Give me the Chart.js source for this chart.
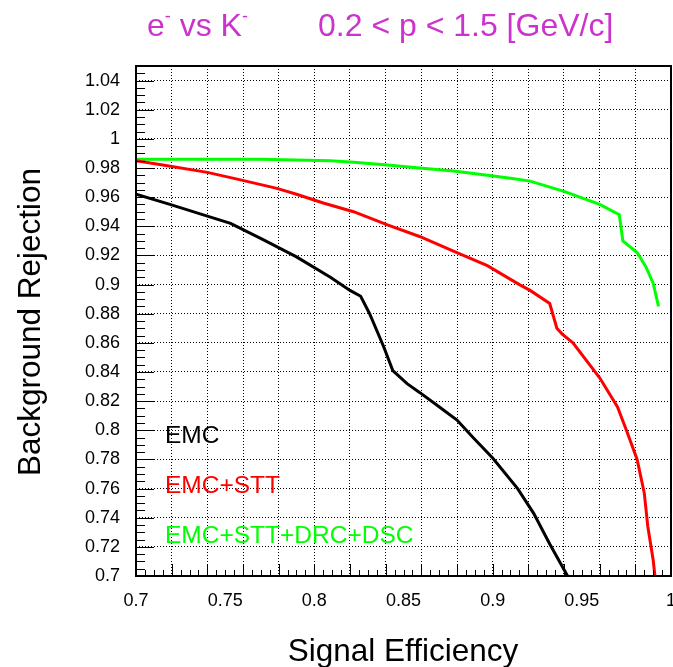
<!DOCTYPE html>
<html>
<head>
<meta charset="utf-8">
<title>e- vs K- rejection</title>
<script src="https://cdn.jsdelivr.net/npm/chart.js@4/dist/chart.umd.min.js"></script>
<style>
  html, body { margin: 0; padding: 0; background: #fff; }
  canvas { display: block; }
</style>
</head>
<body>
<canvas id="c" width="673" height="667"></canvas>
<script>
// Signal efficiency vs background rejection.
const emcX = [0.700, 0.719, 0.740, 0.753, 0.771, 0.790, 0.809, 0.820, 0.826, 0.831, 0.839, 0.844, 0.852, 0.859, 0.869, 0.880, 0.889, 0.900, 0.914, 0.923, 0.932, 0.942];
const emcY = [0.962, 0.955, 0.947, 0.942, 0.931, 0.919, 0.905, 0.896, 0.892, 0.880, 0.857, 0.841, 0.832, 0.826, 0.817, 0.807, 0.795, 0.781, 0.760, 0.743, 0.722, 0.700];
const sttX = [0.700, 0.715, 0.740, 0.758, 0.779, 0.790, 0.805, 0.822, 0.841, 0.859, 0.878, 0.897, 0.915, 0.921, 0.932, 0.936, 0.939, 0.945, 0.960, 0.970, 0.975, 0.981, 0.985, 0.987, 0.990, 0.991];
const sttY = [0.985, 0.982, 0.977, 0.972, 0.966, 0.962, 0.956, 0.950, 0.941, 0.933, 0.923, 0.913, 0.900, 0.896, 0.887, 0.870, 0.866, 0.860, 0.836, 0.816, 0.800, 0.780, 0.757, 0.734, 0.711, 0.700];
const allX = [0.700, 0.770, 0.809, 0.822, 0.841, 0.859, 0.878, 0.897, 0.910, 0.921, 0.940, 0.960, 0.971, 0.973, 0.981, 0.986, 0.990, 0.993];
const allY = [0.986, 0.986, 0.985, 0.984, 0.982, 0.980, 0.978, 0.975, 0.973, 0.971, 0.964, 0.955, 0.948, 0.930, 0.922, 0.912, 0.901, 0.885];

const seriesNames = ['EMC', 'EMC+STT', 'EMC+STT+DRC+DSC'];
const seriesColors = ['#000000', '#ff0000', '#00ff00'];
const xRange = [0.7, 1.0];
const yRange = [0.7, 1.05];

const pts = (xs, ys) => xs.map((x, i) => ({ x, y: ys[i] }));
const mult = (v, step) => Math.abs(Math.round(v * 1000) % Math.round(step * 1000)) === 0;
const fmt = (v) => String(Number(v.toFixed(3)));
const FONT = '"Liberation Sans", Arial, Helvetica, sans-serif';

// ROOT-style frame, inward ticks, legend text, titles
const rootStyle = {
  id: 'rootStyle',
  afterDatasetsDraw(chart) {
    const { ctx, chartArea: a, scales: { x, y } } = chart;
    ctx.save();
    ctx.strokeStyle = '#000';
    ctx.lineWidth = 1;
    ctx.beginPath();
    for (let i = 0; i <= 60; i++) {
      const px = Math.round(x.getPixelForValue(xRange[0] + i * 0.005)) + 0.5;
      const len = i % 4 === 0 ? 12 : 6;
      ctx.moveTo(px, a.bottom); ctx.lineTo(px, a.bottom - len);
    }
    for (let i = 0; i <= 70; i++) {
      const py = Math.round(y.getPixelForValue(yRange[0] + i * 0.005)) + 0.5;
      const len = i % 4 === 0 ? 18 : 9;
      ctx.moveTo(a.left, py); ctx.lineTo(a.left + len, py);
    }
    ctx.stroke();
    ctx.lineWidth = 2;
    ctx.strokeRect(a.left, a.top, a.right - a.left, a.bottom - a.top);

    // legend labels inside the frame
    ctx.font = '24.5px ' + FONT;
    ctx.textAlign = 'left';
    ctx.textBaseline = 'alphabetic';
    const ly = [443, 493, 543];
    seriesNames.forEach((n, i) => { ctx.fillStyle = seriesColors[i]; ctx.fillText(n, 165, ly[i]); });

    // axis titles
    ctx.fillStyle = '#000';
    ctx.font = '31.5px ' + FONT;
    ctx.textAlign = 'center';
    ctx.fillText('Signal Efficiency', 403, 661);
    ctx.save();
    ctx.translate(40, 322);
    ctx.rotate(-Math.PI / 2);
    ctx.fillText('Background Rejection', 0, 0);
    ctx.restore();

    // plot title with superscript minus signs
    ctx.fillStyle = '#cc33cc';
    ctx.textAlign = 'left';
    let tx = 147;
    const base = 36;
    const part = (s, size, dy) => { ctx.font = size + 'px ' + FONT; ctx.fillText(s, tx, base + dy); tx += ctx.measureText(s).width; };
    part('e', 32, 0); part('-', 18, -14); part(' vs K', 32, 0); part('-', 18, -14);
    tx = 318;
    part('0.2 < p < 1.5 [GeV/c]', 32, 0);
    ctx.restore();
  }
};

new Chart(document.getElementById('c'), {
  type: 'line',
  data: {
    datasets: [
      { label: seriesNames[0], data: pts(emcX, emcY), borderColor: seriesColors[0] },
      { label: seriesNames[1], data: pts(sttX, sttY), borderColor: seriesColors[1] },
      { label: seriesNames[2], data: pts(allX, allY), borderColor: seriesColors[2] },
    ],
  },
  options: {
    responsive: false,
    animation: false,
    devicePixelRatio: 1,
    elements: { point: { radius: 0 }, line: { borderWidth: 3, tension: 0 } },
    layout: { padding: { top: 66, right: 2, left: 0, bottom: 0 } },
    plugins: { legend: { display: false }, tooltip: { enabled: false } },
    scales: {
      x: {
        type: 'linear', min: xRange[0], max: xRange[1],
        afterFit(s) { s.height = 91; s.paddingLeft = 0; s.paddingRight = 0; },
        ticks: {
          stepSize: 0.01, autoSkip: false, maxRotation: 0, padding: 14, color: '#000',
          font: { size: 18, family: FONT },
          callback: (v) => (mult(v, 0.05) ? fmt(v) : ''),
        },
        grid: {
          drawTicks: false, lineWidth: 1,
          color: (c) => (c.tick && mult(c.tick.value, 0.02) && c.tick.value > 0.701 && c.tick.value < 0.999 ? '#000' : 'rgba(0,0,0,0)'),
        },
        border: { display: false, dash: [1, 2] },
      },
      y: {
        type: 'linear', min: yRange[0], max: yRange[1],
        afterFit(s) { s.width = 136; s.paddingTop = 0; s.paddingBottom = 0; },
        ticks: {
          stepSize: 0.02, includeBounds: false, padding: 16, color: '#000',
          font: { size: 18, family: FONT },
          callback: (v) => fmt(v),
        },
        grid: {
          drawTicks: false, lineWidth: 1,
          color: (c) => (c.tick && c.tick.value > 0.701 ? '#000' : 'rgba(0,0,0,0)'),
        },
        border: { display: false, dash: [1, 2] },
      },
    },
  },
  plugins: [rootStyle],
});
</script>
</body>
</html>
